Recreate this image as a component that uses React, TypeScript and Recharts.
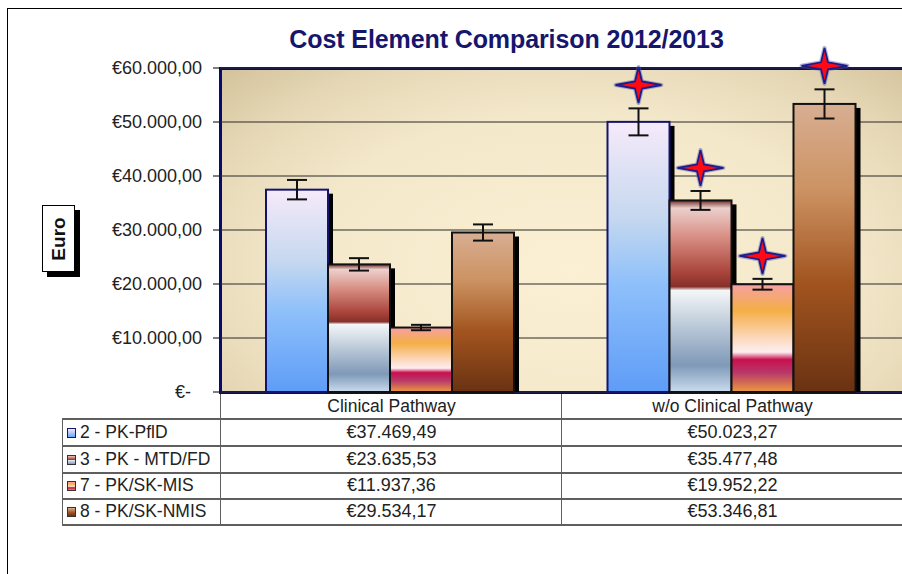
import { Bar, BarChart, CartesianGrid, ErrorBar, LabelList, XAxis, YAxis } from "recharts";

const categories = ["Clinical Pathway", "w/o Clinical Pathway"];
const seriesNames = ["2 - PK-PflD", "3 - PK - MTD/FD", "7 - PK/SK-MIS", "8 - PK/SK-NMIS"];

const pflD = [37469.49, 50023.27];
const mtdFd = [23635.53, 35477.48];
const skMis = [11937.36, 19952.22];
const skNmis = [29534.17, 53346.81];

// error bar half-lengths
const pflDErr = [1800, 2500];
const mtdFdErr = [1150, 1750];
const skMisErr = [500, 1000];
const skNmisErr = [1500, 2700];

// red star markers (value where the star sits), only on the second group
const pflDStar = [null, 56850];
const mtdFdStar = [null, 41500];
const skMisStar = [null, 25200];
const skNmisStar = [null, 60400];

const yTicks = [0, 10000, 20000, 30000, 40000, 50000, 60000];

const rows = categories.map((name, i) => ({
  name,
  v1: pflD[i], v2: mtdFd[i], v3: skMis[i], v4: skNmis[i],
  e1: pflDErr[i], e2: mtdFdErr[i], e3: skMisErr[i], e4: skNmisErr[i],
  s1: pflDStar[i], s2: mtdFdStar[i], s3: skMisStar[i], s4: skNmisStar[i],
}));

const seriesValues = [pflD, mtdFd, skMis, skNmis];
const gradIds = ["gPflD", "gMtd", "gMis", "gNmis"];
const strokes = ["#14146e", "#111", "#111", "#111"];

const FONT = "Arial, 'Liberation Sans', sans-serif";

function fmtEuro(v: number) {
  const [i, d] = v.toFixed(2).split(".");
  return "€" + i.replace(/\B(?=(\d{3})+(?!\d))/g, ".") + "," + d;
}

function YTick(props: any) {
  const { x, y, payload } = props;
  const zero = payload.value === 0;
  return (
    <text x={zero ? x - 11 : x} y={y} dy={6} textAnchor="end" fontFamily={FONT} fontSize={18} fill="#222">
      {zero ? "€-" : fmtEuro(payload.value)}
    </text>
  );
}

function shadowBar(gi: number) {
  return (props: any) => {
    const { x, y, width, height } = props;
    if (!height || height <= 0) return <g />;
    return (
      <g>
        <rect x={x + 5} y={y + 4} width={width} height={Math.max(height - 4, 0)} fill="#000" />
        <rect x={x} y={y} width={width} height={height} fill={`url(#${gradIds[gi]})`} stroke={strokes[gi]} strokeWidth={2} />
      </g>
    );
  };
}

function starLabel(key: "s1" | "s2" | "s3" | "s4", vkey: "v1" | "v2" | "v3" | "v4") {
  return (props: any) => {
    const { x, y, width, height, index } = props;
    const row = rows[index];
    const star = row ? row[key] : null;
    if (star == null) return null;
    const base = y + height;
    const cy = base - (height * star) / row[vkey];
    const cx = x + width / 2;
    const w = 23, h = 18, r = 3.5;
    const d = `M${cx - w},${cy} L${cx - r},${cy - r} L${cx},${cy - h} L${cx + r},${cy - r} L${cx + w},${cy} L${cx + r},${cy + r} L${cx},${cy + h} L${cx - r},${cy + r} Z`;
    return (
      <g>
        <path d={d} fill="none" stroke="#5a5ab0" strokeOpacity={0.45} strokeWidth={4} strokeLinejoin="round" />
        <path d={d} fill="#ff0a14" stroke="#1c1c8a" strokeWidth={1.8} strokeLinejoin="miter" />
      </g>
    );
  };
}

const swatchBg = [
  "linear-gradient(#f3e8f8, #6aa6f8)",
  "linear-gradient(#e8c8c0, #a03a30 45%, #f0f4f8 48%, #7f9ab8)",
  "linear-gradient(#f4a0a0, #f5b048 25%, #fce0c8 55%, #c81050 72%, #e89040)",
  "linear-gradient(#d8b090, #a05020 60%, #6c3414)",
];

const line = "#5f5f5f";

export default function App() {
  const rowTops = [419, 446, 472, 498];
  return (
    <div style={{ position: "fixed", left: 0, top: 0, width: 902, height: 574, overflow: "hidden", background: "#fff", fontFamily: FONT }}>
      <div style={{ position: "absolute", left: 7, top: 8, width: 1200, height: 1200, border: "1px solid #000" }} />
      <div
        style={{
          position: "absolute", left: 0, width: 1013, top: 25, textAlign: "center",
          fontSize: 25, fontWeight: "bold", color: "#16166c", letterSpacing: -0.1,
        }}
      >
        Cost Element Comparison 2012/2013
      </div>
      <div
        style={{
          position: "absolute", left: 219, top: 67, width: 700, height: 321,
          border: "3px solid #0a0a6e",
          background: "radial-gradient(ellipse at 50% 62%, #fcf0d4 0%, #f4e8cb 55%, #e6d8b6 80%, #d3c39c 100%)",
        }}
      />
      <div
        style={{
          position: "absolute", left: 42, top: 205, width: 31, height: 65, background: "#fff",
          border: "1px solid #000", boxShadow: "5px 5px 0 #000",
        }}
      >
        <div
          style={{
            position: "absolute", left: "50%", top: "50%", transform: "translate(-50%, -50%) rotate(-90deg)",
            fontSize: 19, fontWeight: "bold", color: "#111",
          }}
        >
          Euro
        </div>
      </div>
      <div style={{ position: "absolute", left: 0, top: 0 }}>
        <BarChart
          width={903}
          height={574}
          data={rows}
          margin={{ top: 68, right: 0, bottom: 182, left: 0 }}
          barCategoryGap={46}
          barGap={0}
        >
          <defs>
            <linearGradient id="gPflD" x1="0" y1="0" x2="0" y2="1">
              <stop offset="0%" stopColor="#f6eafa" />
              <stop offset="35%" stopColor="#c6d8ef" />
              <stop offset="60%" stopColor="#8ec0fa" />
              <stop offset="100%" stopColor="#5e9cf7" />
            </linearGradient>
            <linearGradient id="gMtd" x1="0" y1="0" x2="0" y2="1">
              <stop offset="0%" stopColor="#6e2c26" />
              <stop offset="4%" stopColor="#ecd0cc" />
              <stop offset="20%" stopColor="#d68a80" />
              <stop offset="38%" stopColor="#a8433a" />
              <stop offset="45%" stopColor="#86302a" />
              <stop offset="47%" stopColor="#f4f6f8" />
              <stop offset="62%" stopColor="#c6d2de" />
              <stop offset="86%" stopColor="#7f99b8" />
              <stop offset="100%" stopColor="#cadcee" />
            </linearGradient>
            <linearGradient id="gMis" x1="0" y1="0" x2="0" y2="1">
              <stop offset="0%" stopColor="#f6a0a4" />
              <stop offset="24%" stopColor="#f4ae46" />
              <stop offset="50%" stopColor="#fcd8bc" />
              <stop offset="63%" stopColor="#fdeef0" />
              <stop offset="70%" stopColor="#c8104e" />
              <stop offset="82%" stopColor="#b8386a" />
              <stop offset="100%" stopColor="#ec9a3e" />
            </linearGradient>
            <linearGradient id="gNmis" x1="0" y1="0" x2="0" y2="1">
              <stop offset="0%" stopColor="#d8ae92" />
              <stop offset="30%" stopColor="#cc9262" />
              <stop offset="62%" stopColor="#a2541f" />
              <stop offset="100%" stopColor="#6a3212" />
            </linearGradient>
          </defs>
          <CartesianGrid vertical={false} stroke="#2a2a2a" strokeWidth={1.2} />
          <XAxis dataKey="name" hide />
          <YAxis
            width={220}
            domain={[0, 60000]}
            ticks={yTicks}
            axisLine={false}
            tickSize={7}
            tickMargin={11}
            tickLine={{ stroke: "#000" }}
            tick={<YTick />}
            interval={0}
          />
          {(["v1", "v2", "v3", "v4"] as const).map((k, gi) => (
            <Bar key={k} dataKey={k} shape={shadowBar(gi)} isAnimationActive={false}>
              <ErrorBar dataKey={`e${gi + 1}`} width={10} stroke="#111" strokeWidth={2} />
              <LabelList dataKey={k} content={starLabel(`s${gi + 1}` as any, k)} />
            </Bar>
          ))}
        </BarChart>
      </div>

      {/* data table under the plot */}
      {categories.map((c, ci) => (
        <div
          key={c}
          style={{
            position: "absolute", left: 220 + ci * 341, top: 394, width: 341, height: 24,
            borderLeft: `1px solid ${line}`, textAlign: "center", fontSize: 17.5, color: "#222", lineHeight: "24px",
          }}
        >
          {c}
        </div>
      ))}
      <div style={{ position: "absolute", left: 62, top: 418, width: 860, borderTop: `2px solid ${line}` }} />
      {seriesNames.map((n, si) => (
        <div key={n}>
          <div
            style={{
              position: "absolute", left: 62, top: rowTops[si], width: 860, height: 26,
              borderBottom: `2px solid ${line}`,
            }}
          />
          <div
            style={{
              position: "absolute", left: 62, top: rowTops[si], width: 157, height: 27,
              borderLeft: `1px solid ${line}`, fontSize: 17.5, color: "#222", lineHeight: "27px",
              whiteSpace: "nowrap", display: "flex", alignItems: "center",
            }}
          >
            <span
              style={{
                display: "inline-block", width: 7, height: 8, marginLeft: 4, marginRight: 4,
                border: `1px solid ${si === 0 ? "#14146e" : "#333"}`, background: swatchBg[si],
              }}
            />
            {n}
          </div>
          {categories.map((c, ci) => (
            <div
              key={c}
              style={{
                position: "absolute", left: 220 + ci * 341, top: rowTops[si], width: 341, height: 27,
                borderLeft: `1px solid ${line}`, textAlign: "center", fontSize: 18, color: "#222", lineHeight: "27px",
              }}
            >
              {fmtEuro(seriesValues[si][ci])}
            </div>
          ))}
        </div>
      ))}
    </div>
  );
}
